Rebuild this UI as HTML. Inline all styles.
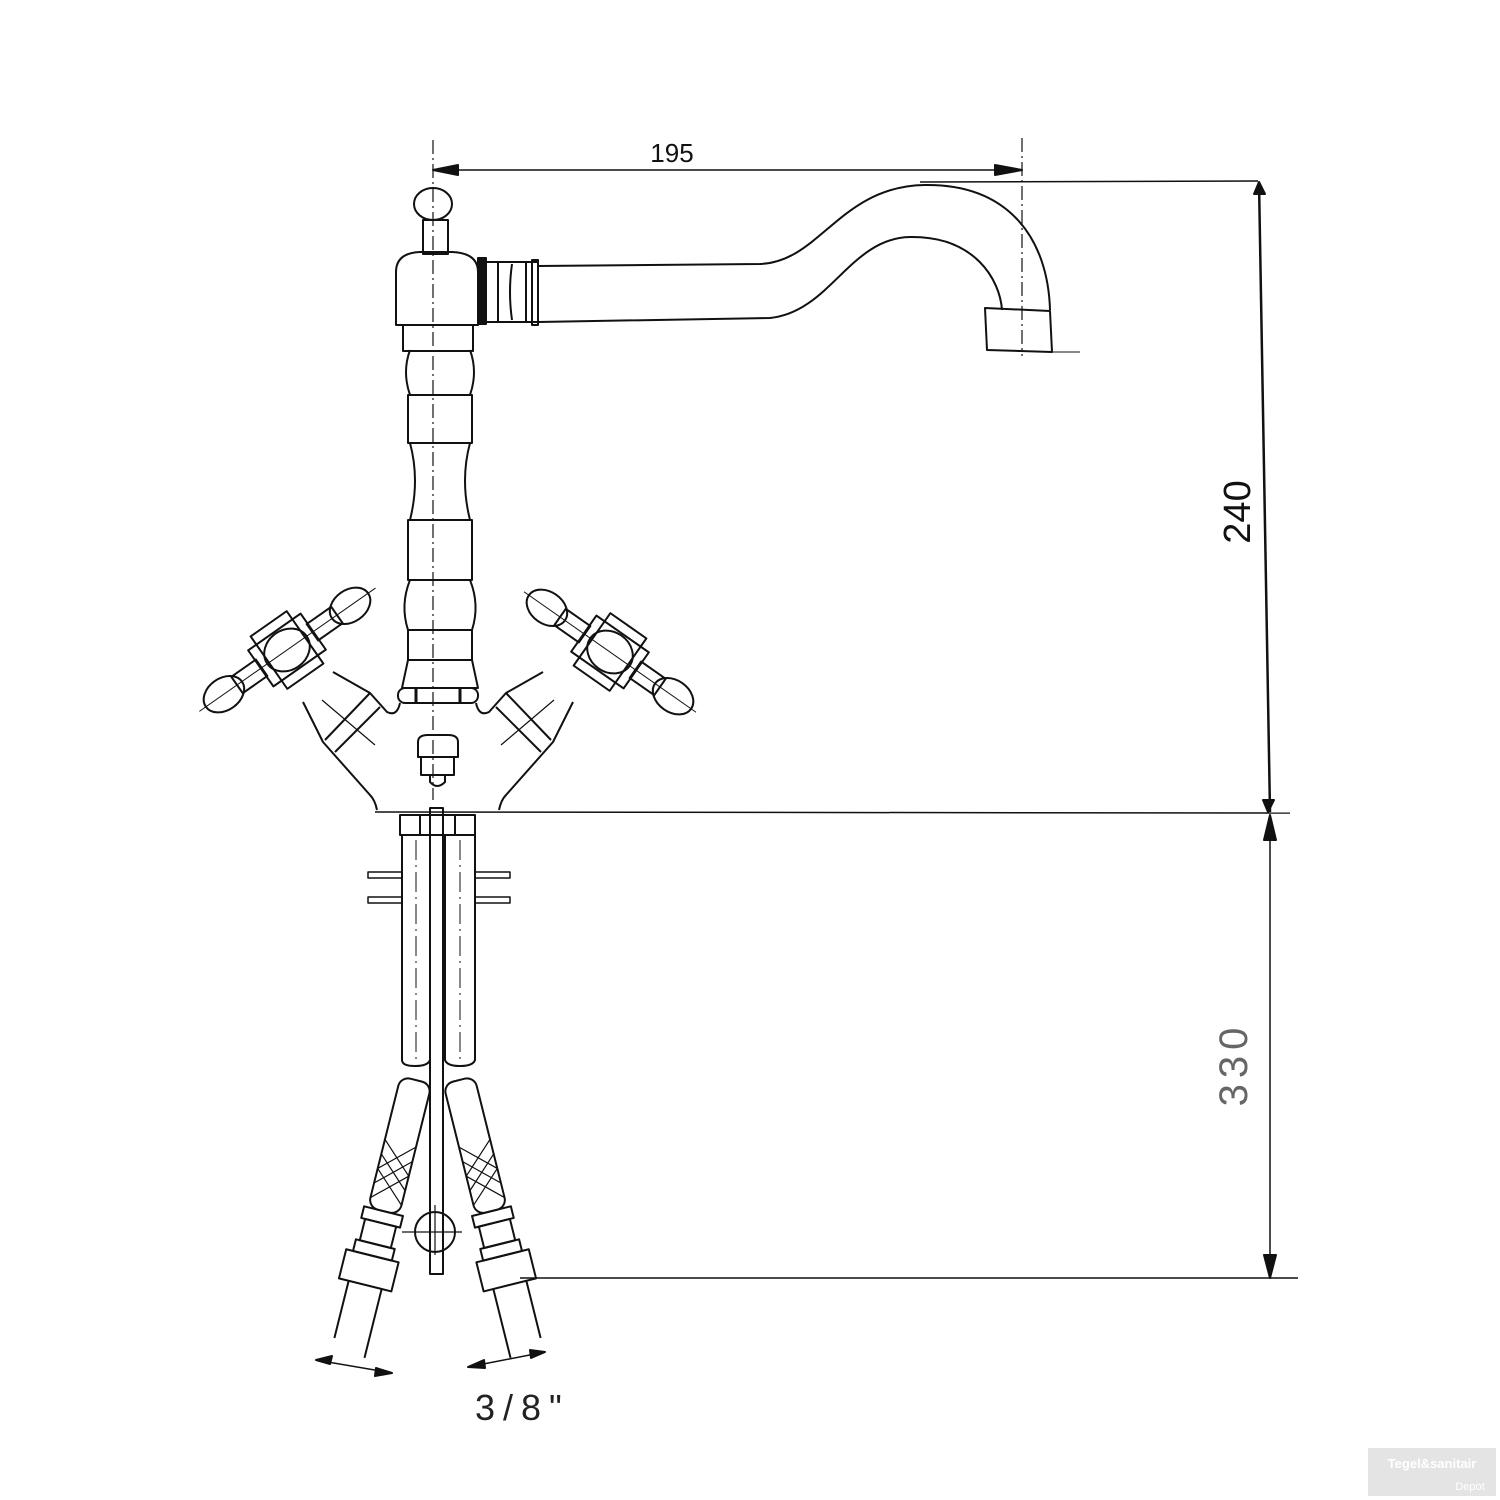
<!DOCTYPE html>
<html><head><meta charset="utf-8"><style>
html,body{margin:0;padding:0;background:#fff}
svg{display:block}
text{font-family:"Liberation Sans",sans-serif}
</style></head><body>
<svg width="1500" height="1500" viewBox="0 0 1500 1500" xmlns="http://www.w3.org/2000/svg">
<rect width="1500" height="1500" fill="#fff"/>
<g fill="none" stroke="#111" stroke-width="2" stroke-linejoin="round">
<!-- dimension 195 -->
<line x1="433" y1="140" x2="433" y2="800" stroke-dasharray="14,4,2,4" stroke-width="1.2"/>
<line x1="1022" y1="138" x2="1022" y2="356" stroke-dasharray="14,4,2,4" stroke-width="1.2"/>
<line x1="433" y1="170" x2="1022" y2="170" stroke-width="1.5"/>
<polygon points="433,170 458,165 458,175" fill="#111"/>
<polygon points="1022,170 995,165 995,175" fill="#111"/>
<!-- dimension 240 -->
<line x1="920" y1="182" x2="1258" y2="181" stroke-width="1.5"/>
<line x1="1259" y1="182" x2="1270" y2="812" stroke-width="2.5"/>
<polygon points="1259,182 1254,194 1265,194" fill="#111"/>
<polygon points="1268,812 1263,800 1274,800" fill="#111"/>
<line x1="375" y1="812" x2="1290" y2="813" stroke-width="1.5"/>
<!-- dimension 330 -->
<line x1="1270" y1="815" x2="1270" y2="1278" stroke-width="1.5"/>
<polygon points="1270,815 1264,840 1276,840" fill="#111"/>
<polygon points="1270,1278 1264,1255 1276,1255" fill="#111"/>
<line x1="520" y1="1278" x2="1298" y2="1278" stroke-width="1.5"/>

<!-- knob -->
<ellipse cx="433" cy="204" rx="19" ry="16"/>
<rect x="423" y="220" width="25" height="34"/>
<!-- head -->
<path d="M396,325 L396,272 Q396,253 420,252 L452,252 Q478,253 478,272 L478,325 Z"/>
<rect x="403" y="325" width="70" height="26"/>
<!-- spout ring -->
<rect x="478" y="258" width="8" height="66" fill="#111"/>
<path d="M486,262 L538,262 M486,322 L538,322 M498,262 L498,322 M512,264 Q508,292 512,320 M526,262 L526,322 M532,260 L538,260 L538,325 L532,325 Z"/>
<!-- spout -->
<path d="M538,266 L760,264 C820,262 840,186 925,185 C1010,184 1048,240 1050,310"/>
<path d="M538,322 L770,318 C830,312 850,238 910,237 C975,236 1000,280 1002,310"/>
<path d="M985,308 L1050,311 L1052,352 L987,350 Z"/>
<line x1="1050" y1="352" x2="1080" y2="352" stroke-width="1"/>
<!-- column -->
<path d="M410,350 Q402,372 410,395 M470,350 Q478,372 470,395"/>
<rect x="408" y="395" width="64" height="48"/>
<path d="M410,443 Q420,480 410,520 M470,443 Q460,480 470,520"/>
<rect x="408" y="520" width="64" height="60"/>
<path d="M410,580 Q400,605 408,630 M470,580 Q480,605 472,630"/>
<rect x="408" y="630" width="64" height="30"/>
<path d="M408,660 L402,688 L478,688 L472,660"/>
<rect x="398" y="688" width="80" height="15" rx="7"/>
<path d="M416,688 v15 M460,688 v15" stroke-width="3"/>
<!-- body -->
<path d="M377,810 Q375,800 370,795 L323,742 L303,702"/>
<path d="M333,672 L370,693 L387,712 Q397,717 400,703"/>
<path d="M499,810 Q501,800 506,795 L553,742 L573,702"/>
<path d="M543,672 L506,693 L489,712 Q479,717 476,703"/>
<path d="M325,740 L370,693 M335,752 L380,707 M551,740 L506,693 M541,752 L496,707"/>
<path d="M322,700 L375,745 M554,700 L501,745" stroke-width="1.2"/>
<!-- handles -->
<g transform="rotate(-35 287 650)">
<rect x="255" y="628" width="64" height="44"/>
<rect x="265" y="618" width="44" height="64"/>
<ellipse cx="287" cy="650" rx="24" ry="20"/>
<line x1="180" y1="650" x2="395" y2="650" stroke-width="1"/>
<rect x="318" y="640" width="30" height="20"/>
<rect x="226" y="640" width="30" height="20"/>
<ellipse cx="364" cy="650" rx="22" ry="16"/>
<ellipse cx="210" cy="650" rx="22" ry="16"/>
</g>
<g transform="rotate(35 610 652)">
<rect x="578" y="630" width="64" height="44"/>
<rect x="588" y="620" width="44" height="64"/>
<ellipse cx="610" cy="652" rx="24" ry="20"/>
<line x1="505" y1="652" x2="715" y2="652" stroke-width="1"/>
<rect x="641" y="642" width="30" height="20"/>
<rect x="549" y="642" width="30" height="20"/>
<ellipse cx="687" cy="652" rx="22" ry="16"/>
<ellipse cx="533" cy="652" rx="22" ry="16"/>
</g>
<!-- center nut -->
<path d="M418,757 L418,742 Q418,735 428,735 L448,735 Q458,735 458,742 L458,757 Z"/>
<rect x="421" y="757" width="33" height="18"/>
<path d="M430,775 L430,782 Q437,790 445,782 L445,775"/>
<!-- pipes -->
<rect x="400" y="815" width="75" height="20"/>
<line x1="420" y1="815" x2="420" y2="835"/><line x1="455" y1="815" x2="455" y2="835"/>
<path d="M402,835 L402,1060 Q402,1066 415,1066 Q428,1066 430,1060 L430,835"/>
<path d="M445,835 L445,1060 Q447,1066 460,1066 Q473,1066 475,1060 L475,835"/>
<rect x="430" y="808" width="13" height="466"/>
<path d="M368,872 h34 v6 h-34 z M368,897 h34 v6 h-34 z M475,872 h35 v6 h-35 z M475,897 h35 v6 h-35 z" stroke-width="1.5"/>
<line x1="416" y1="840" x2="416" y2="1060" stroke-dasharray="20,5,2,5" stroke-width="1"/>
<line x1="460" y1="840" x2="460" y2="1060" stroke-dasharray="20,5,2,5" stroke-width="1"/>
<!-- hoses -->
<g transform="rotate(14 415 1085)">
<rect x="399" y="1080" width="32" height="135" rx="10"/>
<path d="M399,1145 l32,30 M399,1160 l32,30 M399,1175 l32,30 M431,1145 l-32,30 M431,1160 l-32,30 M431,1175 l-32,30" stroke-width="1.2"/>
<rect x="395" y="1215" width="40" height="12"/>
<rect x="399" y="1227" width="32" height="22"/>
<rect x="395" y="1249" width="40" height="12"/>
<rect x="388" y="1261" width="54" height="30"/>
<path d="M398,1291 L398,1350 M432,1291 L432,1362"/>
</g>
<g transform="rotate(-14 460 1085)">
<rect x="444" y="1080" width="32" height="135" rx="10"/>
<path d="M444,1145 l32,30 M444,1160 l32,30 M444,1175 l32,30 M476,1145 l-32,30 M476,1160 l-32,30 M476,1175 l-32,30" stroke-width="1.2"/>
<rect x="440" y="1215" width="40" height="12"/>
<rect x="444" y="1227" width="32" height="22"/>
<rect x="440" y="1249" width="40" height="12"/>
<rect x="433" y="1261" width="54" height="30"/>
<path d="M443,1291 L443,1362 M477,1291 L477,1350"/>
</g>
<circle cx="435" cy="1147" r="0" />
<circle cx="433" cy="1148" r="0"/>
<circle cx="435" cy="1148" r="0"/>
<circle cx="434" cy="1148" r="0"/>
<ellipse cx="434" cy="1148" rx="0" ry="0"/>
<circle cx="434" cy="1147" r="0"/>
<circle cx="434" cy="1148" r="0"/>
<circle cx="434" cy="1148" r="0"/>
<circle cx="434" cy="1148" r="0"/>
<circle cx="434" cy="1148" r="0"/>
<circle cx="434" cy="1148" r="0"/>
<circle cx="434" cy="1148" r="0"/>
<circle cx="434" cy="1148" r="20" transform="translate(0,0)"  style="display:none"/>
<circle cx="434" cy="1148" r="20" style="display:none"/>
<circle cx="433" cy="1148" r="20" style="display:none"/>
<circle cx="434" cy="1148" r="0"/>
<circle cx="434" cy="1148" r="0"/>
<circle cx="434" cy="1148" r="0"/>
<circle cx="434" cy="1148" r="0"/>
<circle cx="434" cy="1148" r="0"/>
<circle cx="434" cy="1148" r="0"/>
<circle cx="434" cy="1148" r="0"/>
<circle cx="434" cy="1148" r="0"/>
<circle cx="433" cy="1148" r="0"/>
<circle cx="433" cy="1148" r="0"/>
<circle cx="433" cy="1148" r="0"/>
<circle cx="434" cy="1148" r="0"/>
<circle cx="434" cy="1148" r="0"/>
<circle cx="433" cy="1148" r="0"/>
<circle cx="433" cy="1148" r="0"/>
<circle cx="434" cy="1148" r="0"/>
<circle cx="434" cy="1148" r="0"/>
<circle cx="434" cy="1148" r="0"/>
<circle cx="434" cy="1148" r="0"/>
<circle cx="434" cy="1148" r="0"/>
<circle cx="434" cy="1148" r="0"/>
<circle cx="434" cy="1148" r="0"/>
<circle cx="434" cy="1148" r="0"/>
<circle cx="434" cy="1148" r="0"/>
<circle cx="434" cy="1148" r="0"/>
<circle cx="434" cy="1148" r="0"/>
<circle cx="434" cy="1148" r="0"/>
<circle cx="435" cy="1148" r="0"/>
<circle cx="435" cy="1148" r="0"/>
<circle cx="435" cy="1148" r="0"/>
<circle cx="435" cy="1148" r="0"/>
<circle cx="435" cy="1148" r="0"/>
<circle cx="435" cy="1148" r="0"/>
<circle cx="435" cy="1148" r="0"/>
<circle cx="435" cy="1148" r="0"/>
<circle cx="435" cy="1232" r="20"/>
<line x1="402" y1="1232" x2="462" y2="1232" stroke-width="1.2"/>
<line x1="435" y1="1205" x2="435" y2="1255" stroke-width="1.2"/>
<!-- 3/8 dims -->
<line x1="316" y1="1360" x2="392" y2="1373" stroke-width="1.5"/>
<polygon points="316,1360 332,1356 330,1364" fill="#111"/>
<polygon points="392,1373 376,1368 375,1376" fill="#111"/>
<line x1="468" y1="1367" x2="545" y2="1352" stroke-width="1.5"/>
<polygon points="468,1367 484,1360 485,1368" fill="#111"/>
<polygon points="545,1352 530,1350 531,1358" fill="#111"/>
</g>
<text x="672" y="162" font-size="26" text-anchor="middle" fill="#111">195</text>
<text transform="translate(1250,512) rotate(-90)" font-size="38" text-anchor="middle" fill="#111">240</text>
<text transform="translate(1247,1064) rotate(-90)" font-size="40" text-anchor="middle" fill="#666" letter-spacing="6">330</text>
<text x="475" y="1420" font-size="36" fill="#222" letter-spacing="8">3/8"</text>
<rect x="1368" y="1448" width="128" height="48" fill="#e4e4e4"/>
<text x="1432" y="1468" font-size="13" font-weight="bold" text-anchor="middle" fill="#fff">Tegel&amp;sanitair</text>
<text x="1470" y="1490" font-size="11" text-anchor="middle" fill="#fff">Depot</text>
</svg>
</body></html>
